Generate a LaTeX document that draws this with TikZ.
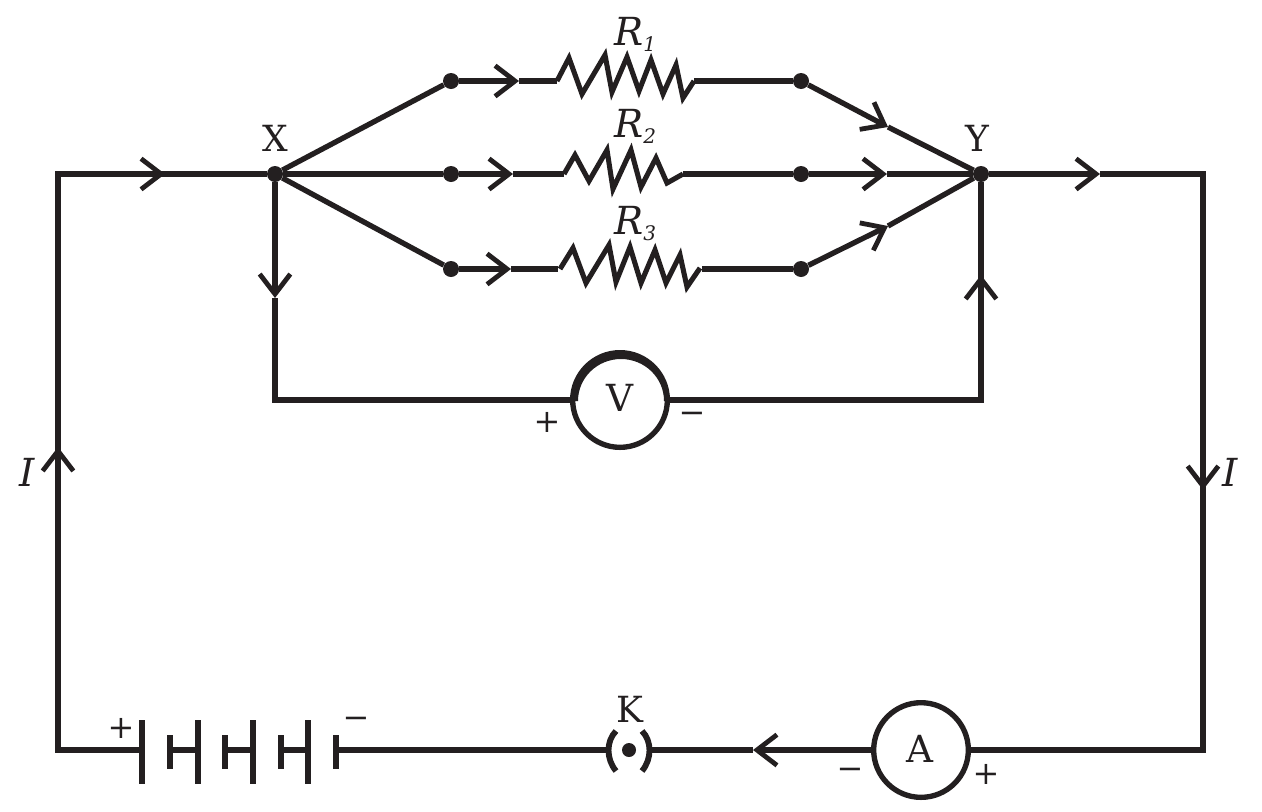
\documentclass[tikz,border=0pt]{standalone}
\usepackage{fontspec}
\setmainfont{DejaVu Serif}
\usetikzlibrary{arrows.meta}
\definecolor{ink}{HTML}{231F20}
\newcommand{\sbs}[1]{\raisebox{-5pt}{\fontsize{15}{15}\selectfont #1}}
\tikzset{
  wire/.style={draw=ink,line width=4pt,line join=miter},
  zig/.style={draw=ink,line width=3.8pt,line join=miter},
  plate/.style={draw=ink,line width=4pt},
  flow/.style={wire,-{Straight Barb[length=15pt,width=23pt,line width=3.6pt]}},
  dot/.style={circle,fill=ink,inner sep=0pt,minimum size=12pt},
  meter/.style={circle,draw=ink,line width=4pt,fill=white,inner sep=0pt,minimum size=71pt},
  lab/.style={font=\fontsize{27}{27}\selectfont,text=ink,inner sep=0pt},
  mlab/.style={font=\fontsize{28}{28}\selectfont,text=ink,inner sep=0pt},
  rlab/.style={font=\fontsize{29}{29}\selectfont\itshape,text=ink,inner sep=0pt},
  sgn/.style={font=\fontsize{24}{24}\selectfont,text=ink,inner sep=0pt},
}
\begin{document}
\begin{tikzpicture}[x=0.75pt,y=-0.75pt]
\useasboundingbox (0,0) rectangle (1262,811);
% junctions
\node[dot] (X) at (275,174) {};
\node[dot] (Y) at (981,174) {};
\node[dot] (a1) at (451,81) {};
\node[dot] (a2) at (451,174) {};
\node[dot] (a3) at (451,269) {};
\node[dot] (b1) at (801,81) {};
\node[dot] (b2) at (801,174) {};
\node[dot] (b3) at (801,269) {};
% meters
\node[meter] (V) at (620,400) {};
\node[meter] (A) at (921,750) {};
% waypoints
\coordinate (TL) at (58,174);
\coordinate (BL) at (58,750);
\coordinate (TR) at (1203,174);
\coordinate (BR) at (1203,750);
\coordinate (VL) at (275,400);
\coordinate (VR) at (981,400);
\coordinate (r1a) at (557,81); \coordinate (r1b) at (694,81);
\coordinate (r2a) at (564,174); \coordinate (r2b) at (683,174);
\coordinate (r3a) at (558,269); \coordinate (r3b) at (702,269);
\coordinate (f1) at (165,174);
\coordinate (f2) at (519,81);
\coordinate (f3) at (513,174);
\coordinate (f4) at (511,269);
\coordinate (f5) at (888,127);
\coordinate (f6) at (887,174);
\coordinate (f7) at (888,226);
\coordinate (f8) at (275,298);
\coordinate (f9) at (981,275);
\coordinate (f10) at (1100,174);
\coordinate (f11) at (1203,490);
\coordinate (f12) at (753,750);
\coordinate (f13) at (58,447);
\coordinate (Kl) at (608,750);
\coordinate (Kr) at (652,750);
\coordinate (c0) at (142,750);
\coordinate (c4s) at (336,750);
% outer loop
\draw[wire] (c0) -- (BL) -- (f13);
\draw[flow] (BL) -- (f13);
\draw[wire] (f13) -- (TL) -- (f1);
\draw[flow] (TL) -- (f1);
\draw[wire] (f1) -- (X);
\draw[flow] (Y) -- (f10);
\draw[wire] (f10) -- (TR) -- (f11);
\draw[flow] (TR) -- (f11);
\draw[wire] (f11) -- (BR) -- (A);
\draw[flow] (A) -- (f12);
\draw[wire] (f12) -- (Kr);
\draw[wire] (Kl) -- (c4s);
% parallel branches
\draw[wire] (X) -- (a1);
\draw[wire] (X) -- (a2);
\draw[wire] (X) -- (a3);
\draw[flow] (a1) -- (f2);
\draw[wire] (f2) -- (r1a);
\draw[flow] (a2) -- (f3);
\draw[wire] (f3) -- (r2a);
\draw[flow] (a3) -- (f4);
\draw[wire] (f4) -- (r3a);
\draw[wire] (r1b) -- (b1);
\draw[wire] (r2b) -- (b2);
\draw[wire] (r3b) -- (b3);
\draw[flow] (b1) -- (f5);
\draw[wire] (f5) -- (Y);
\draw[flow] (b2) -- (f6);
\draw[wire] (f6) -- (Y);
\draw[flow] (b3) -- (f7);
\draw[wire] (f7) -- (Y);
% voltmeter loop
\draw[flow] (X) -- (f8);
\draw[wire] (f8) -- (VL) -- (V);
\draw[wire] (V) -- (VR) -- (f9);
\draw[flow] (VR) -- (f9);
\draw[wire] (f9) -- (Y);
% thick upper rim of the voltmeter
\fill[ink] (571,401) arc[start angle=180,end angle=360,radius=49] -- (664,401)
  arc[start angle=360,end angle=180,x radius=43,y radius=42] -- cycle;
\node[mlab] (Vt) at (620,398) {V};
\node[mlab] (At) at (920,749) {A};
% resistors
\draw[zig] (r1a) -- (569,58) -- (582,94) -- (605,55) -- (612,92) -- (627,57) -- (639,91) -- (651,60) -- (663,94) -- (676,65) -- (683,98) -- (r1b);
\draw[zig] (r2a) -- (575,155) -- (589,181) -- (607,150) -- (613,189) -- (631,150) -- (641,187) -- (656,158) -- (667,183) -- (r2b);
\draw[zig] (560,269) -- (573,248) -- (586,283) -- (609,245) -- (616,282) -- (630,247) -- (641,283) -- (655,250) -- (666,283) -- (680,255) -- (687,287) -- (700,268);
% battery
\draw[plate] (142,720) -- (142,784);
\draw[plate] (170,735) -- (170,769);
\draw[plate] (198,720) -- (198,784);
\draw[plate] (225,735) -- (225,769);
\draw[plate] (253,720) -- (253,784);
\draw[plate] (281,735) -- (281,769);
\draw[plate] (308,720) -- (308,784);
\draw[plate] (336,735) -- (336,769);
\draw[wire] (170,750) -- (198,750);
\draw[wire] (225,750) -- (253,750);
\draw[wire] (281,750) -- (308,750);
% key
\node[dot,minimum size=10.5pt] (K) at (629,750) {};
\draw[wire,line width=4.4pt] (616,731) .. controls (606,741) and (606,759) .. (616,771);
\draw[wire,line width=4.4pt] (642,731) .. controls (652,741) and (652,759) .. (642,771);
% labels
\node[lab] (lX) at (275,138) {X};
\node[lab] (lY) at (977,138) {Y};
\node[lab] (lK) at (630,709) {K};
\node[rlab,anchor=base west] (lR1) at (614,45) {R\sbs{1}};
\node[rlab,anchor=base west] (lR2) at (614,137) {R\sbs{2}};
\node[rlab,anchor=base west] (lR3) at (614,234) {R\sbs{3}};
\node[rlab] (lIl) at (27,472) {I};
\node[rlab] (lIr) at (1230,472) {I};
\node[sgn] (p1) at (121,728) {+};
\node[sgn] (m1) at (356,723) {−};
\node[sgn] (p2) at (547,422) {+};
\node[sgn] (m2) at (692,418) {−};
\node[sgn] (m3) at (850,774) {−};
\node[sgn] (p3) at (986,774) {+};
\end{tikzpicture}
\end{document}
